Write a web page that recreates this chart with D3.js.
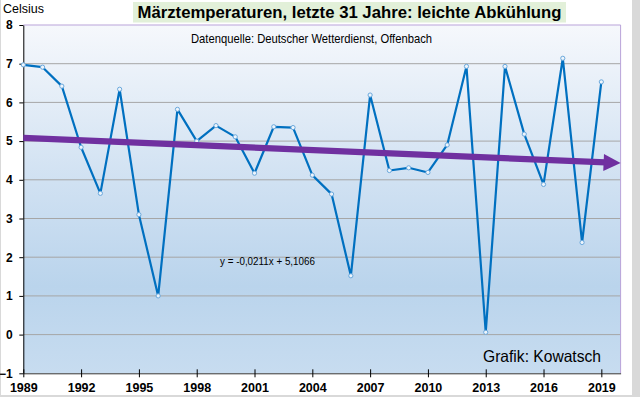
<!DOCTYPE html>
<html>
<head>
<meta charset="utf-8">
<script src="https://cdn.jsdelivr.net/npm/d3@7/dist/d3.min.js"></script>
<style>
  html, body { margin: 0; padding: 0; background: #d9d9d9; }
  svg { display: block; font-family: Arial, "Liberation Sans", sans-serif; }
</style>
</head>
<body>
<svg id="chart" width="640" height="397"></svg>
<script>
// March temperatures (Celsius), DWD Germany
const years = [1989, 1990, 1991, 1992, 1993, 1994, 1995, 1996, 1997, 1998, 1999,
  2000, 2001, 2002, 2003, 2004, 2005, 2006, 2007, 2008, 2009, 2010,
  2011, 2012, 2013, 2014, 2015, 2016, 2017, 2018, 2019];
const temps = [6.97, 6.91, 6.42, 4.84, 3.65, 6.34, 3.10, 1.00, 5.82, 5.00, 5.40,
  5.11, 4.17, 5.37, 5.35, 4.12, 3.63, 1.52, 6.19, 4.24, 4.31, 4.19,
  4.90, 6.93, 0.06, 6.93, 5.18, 3.88, 7.14, 2.38, 6.53];
const yearTicks = [1989, 1992, 1995, 1998, 2001, 2004, 2007, 2010, 2013, 2016, 2019];
const tempTicks = [-1, 0, 1, 2, 3, 4, 5, 6, 7, 8];
// linear trend as printed in the chart (x = 1 for 1989)
const trendSlope = -0.0211;
const trendIntercept = 5.1066;
const trendYears = [1989, 2020];

const svg = d3.select('#chart');
const margin = { left: 23.3, right: 19.4, top: 25, bottom: 23.7 };
const width = 640, height = 397;

const x = d3.scaleLinear().domain([1989, 2020]).range([margin.left, width - margin.right]);
const y = d3.scaleLinear().domain([-1, 8]).range([height - margin.bottom, margin.top]);

// chart area
svg.append('rect').attr('x', 1).attr('y', 0).attr('width', 631).attr('height', 395).attr('fill', '#fff');

const defs = svg.append('defs');
const grad = defs.append('linearGradient').attr('id', 'plotBg')
  .attr('x1', 0).attr('y1', 0).attr('x2', 0).attr('y2', 1);
grad.append('stop').attr('offset', '0%').attr('stop-color', '#f6f8fc');
grad.append('stop').attr('offset', '45%').attr('stop-color', '#d0e1f2');
grad.append('stop').attr('offset', '75%').attr('stop-color', '#bad4ec');
grad.append('stop').attr('offset', '100%').attr('stop-color', '#c7dcf0');

svg.append('rect')
  .attr('x', x(1989)).attr('y', y(8))
  .attr('width', x(2020) - x(1989)).attr('height', y(-1) - y(8))
  .attr('fill', 'url(#plotBg)');

// gridlines
svg.append('g')
  .selectAll('line')
  .data(tempTicks.filter(d => d > -1 && d < 8))
  .enter().append('line')
  .attr('x1', x(1989)).attr('x2', x(2020))
  .attr('y1', d => y(d)).attr('y2', d => y(d))
  .attr('stroke', '#a6a6a6').attr('stroke-width', 1);

// plot border (top & right)
svg.append('path')
  .attr('d', `M${x(1989)},${y(8)}H${x(2020)}V${y(-1)}`)
  .attr('fill', 'none').attr('stroke', '#b9a3d9').attr('stroke-width', 1);

// y axis
const yAxis = svg.append('g')
  .attr('transform', `translate(${x(1989)},0)`)
  .call(d3.axisLeft(y).tickValues(tempTicks).tickSize(4).tickPadding(6.6).tickSizeOuter(0));
yAxis.select('.domain').attr('stroke', '#000');
yAxis.selectAll('.tick line').attr('stroke', '#000');
yAxis.selectAll('.tick text')
  .attr('font-size', 12).attr('font-weight', 'bold').attr('fill', '#000')
  .attr('font-family', 'Arial, "Liberation Sans", sans-serif');

// x axis
const xAxis = svg.append('g')
  .attr('transform', `translate(0,${y(-1)})`)
  .call(d3.axisBottom(x).tickValues(yearTicks).tickFormat(d3.format('d')).tickSize(4).tickPadding(6).tickSizeOuter(0));
xAxis.select('.domain').attr('stroke', '#333');
xAxis.selectAll('.tick line').attr('stroke', '#000').attr('y1', -4);
xAxis.selectAll('.tick text')
  .attr('font-size', 12.5).attr('font-weight', 'bold').attr('fill', '#000')
  .attr('font-family', 'Arial, "Liberation Sans", sans-serif');

// temperature line
const line = d3.line().x((d, i) => x(years[i])).y(d => y(d));
svg.append('path')
  .datum(temps)
  .attr('d', line)
  .attr('fill', 'none')
  .attr('stroke', '#0070c0')
  .attr('stroke-width', 2.2)
  .attr('stroke-linejoin', 'round');

svg.append('g')
  .selectAll('circle')
  .data(temps)
  .enter().append('circle')
  .attr('cx', (d, i) => x(years[i]))
  .attr('cy', d => y(d))
  .attr('r', 2.1)
  .attr('fill', '#eef5fc')
  .attr('stroke', '#6aa8dc')
  .attr('stroke-width', 1);

// trend arrow
const trendVal = yr => trendSlope * (yr - 1988) + trendIntercept;
const p1 = [x(trendYears[0]), y(trendVal(trendYears[0]))];
const p2 = [x(trendYears[1]), y(trendVal(trendYears[1]))];
const len = Math.hypot(p2[0] - p1[0], p2[1] - p1[1]);
const dir = [(p2[0] - p1[0]) / len, (p2[1] - p1[1]) / len];
const nrm = [-dir[1], dir[0]];
const headLen = 17, headHalf = 8.5;
const base = [p2[0] - dir[0] * headLen, p2[1] - dir[1] * headLen];

svg.append('line')
  .attr('x1', p1[0]).attr('y1', p1[1])
  .attr('x2', base[0] + dir[0] * 2).attr('y2', base[1] + dir[1] * 2)
  .attr('stroke', '#7030a0').attr('stroke-width', 6.3);
svg.append('path')
  .attr('d', `M${p2[0]},${p2[1]}L${base[0] + nrm[0] * headHalf},${base[1] + nrm[1] * headHalf}L${base[0] - nrm[0] * headHalf},${base[1] - nrm[1] * headHalf}Z`)
  .attr('fill', '#7030a0');

// title
svg.append('rect')
  .attr('x', 133).attr('y', 2).attr('width', 433).attr('height', 20.5)
  .attr('fill', '#e2f0d9');
svg.append('text')
  .attr('x', 349.5).attr('y', 17.5)
  .attr('text-anchor', 'middle')
  .attr('font-size', 16.5).attr('font-weight', 'bold').attr('fill', '#000')
  .attr('textLength', 424).attr('lengthAdjust', 'spacingAndGlyphs')
  .text('Märztemperaturen, letzte 31 Jahre: leichte Abkühlung');

svg.append('text')
  .attr('x', 3).attr('y', 12.5)
  .attr('font-size', 12.5).attr('fill', '#000')
  .text('Celsius');

svg.append('text')
  .attr('x', 191).attr('y', 42.7)
  .attr('font-size', 13.5).attr('fill', '#000')
  .attr('textLength', 241).attr('lengthAdjust', 'spacingAndGlyphs')
  .text('Datenquelle: Deutscher Wetterdienst, Offenbach');

svg.append('text')
  .attr('x', 220).attr('y', 265)
  .attr('font-size', 10.5).attr('fill', '#000')
  .attr('textLength', 95).attr('lengthAdjust', 'spacingAndGlyphs')
  .text('y = -0,0211x + 5,1066');

svg.append('text')
  .attr('x', 483).attr('y', 362)
  .attr('font-size', 16.5).attr('fill', '#000')
  .attr('textLength', 118).attr('lengthAdjust', 'spacingAndGlyphs')
  .text('Grafik: Kowatsch');
</script>
</body>
</html>
